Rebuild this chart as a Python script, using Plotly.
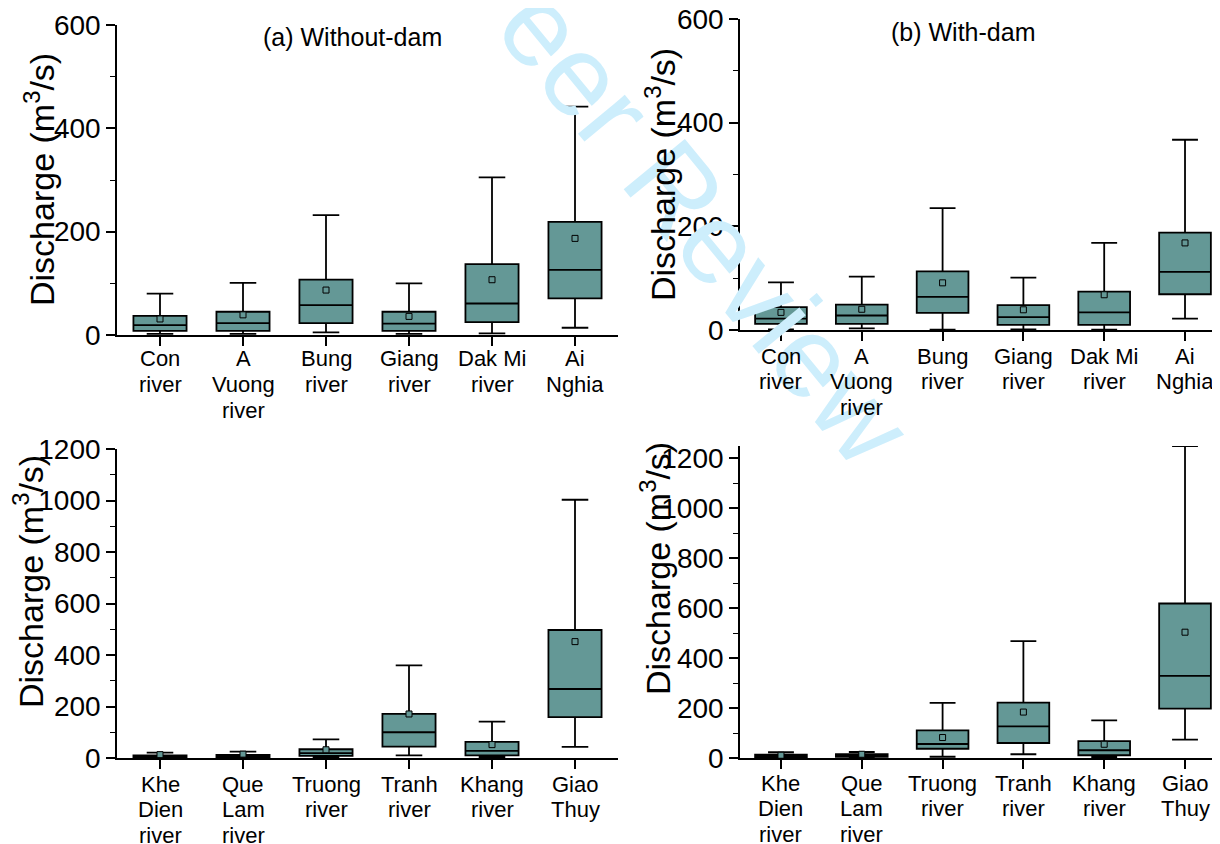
import plotly.graph_objects as go

# ---------------- data ----------------
top_rivers = ["Con<br>river", "A<br>Vuong<br>river", "Bung<br>river", "Giang<br>river", "Dak Mi<br>river", "Ai<br>Nghia"]
bot_rivers = ["Khe<br>Dien<br>river", "Que<br>Lam<br>river", "Truong<br>river", "Tranh<br>river", "Khang<br>river", "Giao<br>Thuy"]

# (a) Without-dam, top row
a_upper = [80, 101, 232, 100, 305, 442]
a_q3 = [37, 45, 107, 45, 137, 219]
a_median = [19, 23, 58, 22, 61, 126]
a_q1 = [8, 8, 23, 8, 25, 71]
a_lower = [2, 2, 5, 2, 3, 14]
a_mean = [31, 39, 87, 36, 107, 187]

# (b) With-dam, top row
b_upper = [92, 103, 235, 101, 168, 367]
b_q3 = [44, 49, 113, 48, 74, 188]
b_median = [22, 28, 64, 25, 34, 112]
b_q1 = [12, 12, 33, 10, 10, 69]
b_lower = [1, 3, 0.5, 1, 0.5, 22]
b_mean = [34, 40, 91, 39, 68, 168]

# (c) Without-dam, bottom row
c_upper = [21, 25, 72, 360, 141, 1003]
c_q3 = [10, 12, 34, 171, 63, 497]
c_median = [5, 6, 19, 100, 28, 268]
c_q1 = [3, 3, 8, 44, 10, 159]
c_lower = [0.5, 0.5, 3, 10, 3, 43]
c_mean = [13, 15, 32, 171, 52, 452]

# (d) With-dam, bottom row
d_upper = [23, 24, 221, 468, 151, 1250]
d_q3 = [13, 15, 111, 222, 68, 619]
d_median = [8, 9, 56, 127, 31, 329]
d_q1 = [4, 5, 37, 60, 11, 198]
d_lower = [0.5, 0.5, 5, 15, 3, 74]
d_mean = [11, 15, 82, 184, 55, 504]

# ---------------- styling ----------------
OFF = 8                      # page body margin
W, H = 1220 - OFF, 844 - OFF
FILL = "#649896"
FONT = "Liberation Sans, Arial, sans-serif"
TICKFONT = 28
CATFONT = 22
LINE_STEP = 25.5

def px_x(p):
    return (p - OFF) / W

def px_y(p):
    return 1 - (p - OFF) / H

panels = [
    dict(xa="x", ya="y", stats=(a_lower, a_q1, a_median, a_q3, a_upper, a_mean), cats=top_rivers,
         xdom=[px_x(117), px_x(618)], ydom=[px_y(335), px_y(25)], xr=[-0.518, 5.518], yr=[0, 600], base=366),
    dict(xa="x2", ya="y2", stats=(b_lower, b_q1, b_median, b_q3, b_upper, b_mean), cats=top_rivers,
         xdom=[px_x(740), 1.0], ydom=[px_y(330), px_y(19)], xr=[-0.507, 5.433], yr=[0, 600], base=363),
    dict(xa="x3", ya="y3", stats=(c_lower, c_q1, c_median, c_q3, c_upper, c_mean), cats=bot_rivers,
         xdom=[px_x(117), px_x(618)], ydom=[px_y(758), px_y(449)], xr=[-0.518, 5.518], yr=[0, 1200], base=791),
    dict(xa="x4", ya="y4", stats=(d_lower, d_q1, d_median, d_q3, d_upper, d_mean), cats=bot_rivers,
         xdom=[px_x(740), 1.0], ydom=[px_y(758), px_y(446)], xr=[-0.507, 5.433], yr=[0, 1250], base=790),
]

fig = go.Figure()
layout = dict(
    width=W, height=H,
    template="none",
    margin=dict(l=0, r=0, t=0, b=0, autoexpand=False),
    paper_bgcolor="white", plot_bgcolor="white",
    showlegend=False,
    font=dict(family=FONT, color="black"),
)

annotations = []

def ann(text, x, y, size, angle=0, color="black", xref="paper"):
    return dict(text=text, x=x, y=y, xref=xref, yref="paper",
                xanchor="center", yanchor="middle", showarrow=False, textangle=angle,
                font=dict(size=size, family=FONT, color=color))

for i, p in enumerate(panels):
    lo, q1, med, q3, up, mean = p["stats"]
    xs = list(range(len(p["cats"])))
    fig.add_trace(go.Box(
        x=xs, lowerfence=lo, q1=q1, median=med, q3=q3, upperfence=up,
        xaxis=p["xa"], yaxis=p["ya"],
        fillcolor=FILL, line=dict(color="black", width=1.8),
        whiskerwidth=0.5, width=0.64, boxpoints=False, hoverinfo="skip",
    ))
    fig.add_trace(go.Scatter(
        x=xs, y=mean, mode="markers", xaxis=p["xa"], yaxis=p["ya"],
        marker=dict(symbol="square", size=6, color=FILL, line=dict(color="black", width=1)),
        hoverinfo="skip",
    ))
    suffix = "" if i == 0 else str(i + 1)
    layout["xaxis" + suffix] = dict(
        domain=p["xdom"], anchor=p["ya"], range=p["xr"], automargin=False,
        tickmode="array", tickvals=xs, showticklabels=False,
        ticks="outside", ticklen=9, tickwidth=1.6, tickcolor="black",
        showline=True, linecolor="black", linewidth=1.6,
        showgrid=False, zeroline=False,
    )
    layout["yaxis" + suffix] = dict(
        domain=p["ydom"], anchor=p["xa"], range=p["yr"], automargin=False,
        tickmode="linear", tick0=0, dtick=200, ticklabeloverflow="allow",
        ticks="outside", ticklen=9, tickwidth=1.6, tickcolor="black",
        minor=dict(ticks="outside", ticklen=5, tickwidth=1.2, tickcolor="black", dtick=100, showgrid=False),
        showline=True, linecolor="black", linewidth=1.6,
        showgrid=False, zeroline=False,
        tickfont=dict(size=TICKFONT, family=FONT, color="black"),
    )
    # category labels, one annotation per line (tight line spacing as in the reference)
    for xi, label in zip(xs, p["cats"]):
        for k, line in enumerate(label.split("<br>")):
            baseline = p["base"] + k * LINE_STEP
            annotations.append(ann(line, xi, px_y(baseline - 7), CATFONT, xref=p["xa"]))

fig.update_layout(**layout)

ytitle = "Discharge (m<sup>3</sup>/s)"
annotations = [
    ann("Peer Review", px_x(681), px_y(196), 115, angle=50.6, color="#cdeefc"),  # watermark
] + annotations + [
    ann("(a) Without-dam", px_x(353), px_y(37), 25),
    ann("(b) With-dam", px_x(963), px_y(32), 25),
    ann(ytitle, px_x(40), px_y(180), 34, angle=-90),
    ann(ytitle, px_x(660), px_y(175), 34, angle=-90),
    ann(ytitle, px_x(28), px_y(582), 34, angle=-90),
    ann(ytitle, px_x(655), px_y(569), 34, angle=-90),
]
fig.update_layout(annotations=annotations)

fig.write_html("out.html", config={"responsive": False})
